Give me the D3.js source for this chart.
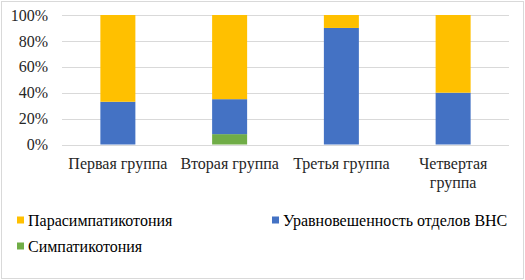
<!DOCTYPE html>
<html>
<head>
<meta charset="utf-8">
<script src="https://cdn.jsdelivr.net/npm/d3@7"></script>
<style>
body { margin: 0; background: #fff; }
svg { display: block; }
</style>
</head>
<body>
<div class="chart"></div>
<script>
var groups = ['Первая группа', 'Вторая группа', 'Третья группа', 'Четвертая группа'];
var sympatho = [0, 8, 0, 0];
var balance = [33, 27, 90, 40];
var parasympatho = [67, 65, 10, 60];
var seriesNames = ['Парасимпатикотония', 'Уравновешенность отделов ВНС', 'Симпатикотония'];
var yTicks = [0, 20, 40, 60, 80, 100];

var width = 525, height = 280;
var margin = {top: 15, left: 62, bottom: 135.5, right: 15};
var yellow = '#ffc000', blue = '#4472c4', green = '#70ad47',
	gridColor = '#d9d9d9', textColor = '#262626',
	serifFont = 'Liberation Serif';

var svg = d3.select('.chart').append('svg')
	.attr('width', width)
	.attr('height', height);

// chart border
svg.append('rect')
	.attr('x', 1.5).attr('y', 1.5)
	.attr('width', width - 3).attr('height', height - 3)
	.attr('fill', '#fff')
	.attr('stroke', gridColor);

var plotW = width - margin.left - margin.right - 1;
var plotH = height - margin.top - margin.bottom;
var g = svg.append('g')
	.attr('transform', 'translate(' + margin.left + ',' + margin.top + ')');

var x = d3.scaleBand().domain(groups).range([0, plotW]).padding(0);
var y = d3.scaleLinear().domain([0, 100]).range([plotH, 0]);
var barW = 35;

// gridlines
g.selectAll('.grid').data(yTicks).enter().append('line')
	.attr('x1', 0).attr('x2', plotW)
	.attr('y1', function(d) { return Math.round(y(d)) + 0.5; })
	.attr('y2', function(d) { return Math.round(y(d)) + 0.5; })
	.attr('stroke', gridColor);

// y tick labels
g.selectAll('.ytick').data(yTicks).enter().append('text')
	.attr('x', -14)
	.attr('y', function(d) { return y(d); })
	.attr('dy', '0.35em')
	.attr('text-anchor', 'end')
	.attr('font-size', '16px')
	.style('font-family', serifFont)
	.attr('fill', textColor)
	.text(function(d) { return d + '%'; });

// stacked bars
var rows = groups.map(function(name, i) {
	return {group: name, s: sympatho[i], b: balance[i], p: parasympatho[i]};
});
var stack = d3.stack().keys(['s', 'b', 'p'])(rows);
var colors = {s: green, b: blue, p: yellow};
stack.forEach(function(layer) {
	g.selectAll('.bar-' + layer.key).data(layer).enter().append('rect')
		.attr('x', function(d) { return x(d.data.group) + x.bandwidth() / 2 - barW / 2; })
		.attr('y', function(d) { return y(d[1]); })
		.attr('width', barW)
		.attr('height', function(d) { return y(d[0]) - y(d[1]); })
		.attr('fill', colors[layer.key]);
});

// x labels (wrapped like the original)
var xLabelLines = {
	'Первая группа': ['Первая группа'],
	'Вторая группа': ['Вторая группа'],
	'Третья группа': ['Третья группа'],
	'Четвертая группа': ['Четвертая', 'группа']
};
groups.forEach(function(name) {
	var t = g.append('text')
		.attr('x', x(name) + x.bandwidth() / 2)
		.attr('y', plotH + 24)
		.attr('text-anchor', 'middle')
		.attr('font-size', '16px')
		.style('font-family', serifFont)
		.attr('fill', textColor);
	xLabelLines[name].forEach(function(line, j) {
		t.append('tspan')
			.attr('x', x(name) + x.bandwidth() / 2)
			.attr('dy', j === 0 ? 0 : 19)
			.text(line);
	});
});

// legend
var legendItems = [
	{name: seriesNames[0], color: yellow, x: 17, y: 220},
	{name: seriesNames[1], color: blue, x: 272, y: 220},
	{name: seriesNames[2], color: green, x: 17, y: 246}
];
var lg = svg.selectAll('.legend').data(legendItems).enter().append('g')
	.attr('transform', function(d) { return 'translate(' + d.x + ',' + d.y + ')'; });
lg.append('rect')
	.attr('x', 0).attr('y', -3.5)
	.attr('width', 7).attr('height', 7)
	.attr('fill', function(d) { return d.color; });
lg.append('text')
	.attr('x', 11)
	.attr('dy', '0.35em')
	.attr('font-size', '16px')
	.style('font-family', serifFont)
	.attr('fill', '#000')
	.text(function(d) { return d.name; });
</script>
</body>
</html>
